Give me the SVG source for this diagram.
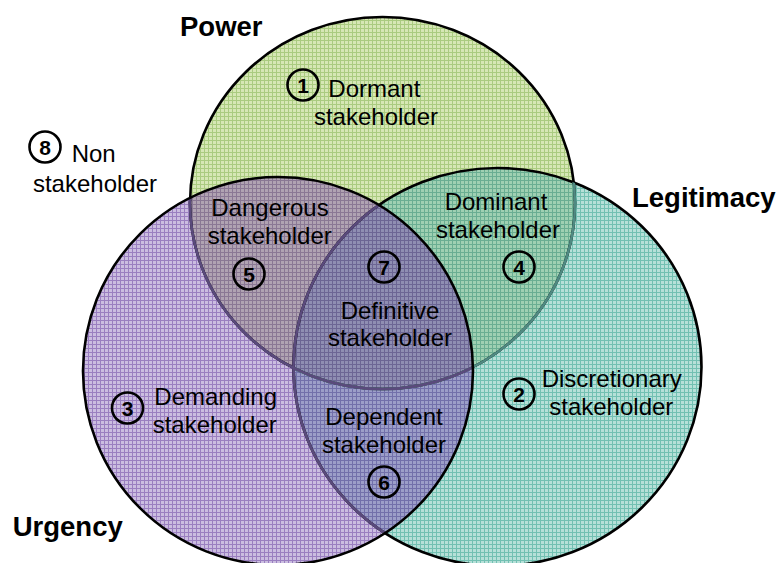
<svg xmlns="http://www.w3.org/2000/svg" width="783" height="563" viewBox="0 0 783 563">
<style>
text{font-family:"Liberation Sans",Arial,sans-serif;fill:#000}
.lbl{font-size:24px}
.ttl{font-size:27.5px;font-weight:bold}
.num{font-size:21px;font-weight:bold;text-anchor:middle}
.mid{text-anchor:middle}
.nc{fill:none;stroke:#000;stroke-width:2.6}
.out{fill:none;stroke:#000;stroke-width:2.6}
</style>
<defs>
<pattern id="pG" width="4" height="4" patternUnits="userSpaceOnUse"><rect width="4" height="4" fill="#d6e7b5"/><path d="M0 0.5H4M0.5 0V4" stroke="#aacb80" stroke-width="1"/></pattern>
<pattern id="pT" width="4" height="4" patternUnits="userSpaceOnUse"><rect width="4" height="4" fill="#b6e0d8"/><path d="M0 0.5H4M0.5 0V4" stroke="#72c0b2" stroke-width="1"/></pattern>
<pattern id="pP" width="4" height="4" patternUnits="userSpaceOnUse"><rect width="4" height="4" fill="#cbbde0"/><path d="M0 0.5H4M0.5 0V4" stroke="#9a7fc0" stroke-width="1"/></pattern>
<pattern id="pGT" width="4" height="4" patternUnits="userSpaceOnUse"><rect width="4" height="4" fill="#9fd0b2"/><path d="M0 0.5H4M0.5 0V4" stroke="#6aae92" stroke-width="1"/></pattern>
<pattern id="pGP" width="4" height="4" patternUnits="userSpaceOnUse"><rect width="4" height="4" fill="#b0a3b2"/><path d="M0 0.5H4M0.5 0V4" stroke="#8a7894" stroke-width="1"/></pattern>
<pattern id="pTP" width="4" height="4" patternUnits="userSpaceOnUse"><rect width="4" height="4" fill="#9c9ec8"/><path d="M0 0.5H4M0.5 0V4" stroke="#7270aa" stroke-width="1"/></pattern>
<pattern id="pGTP" width="4" height="4" patternUnits="userSpaceOnUse"><rect width="4" height="4" fill="#8f8eb2"/><path d="M0 0.5H4M0.5 0V4" stroke="#6c6694" stroke-width="1"/></pattern>
<ellipse id="eG" cx="382.5" cy="203" rx="192.5" ry="186"/>
<ellipse id="eT" cx="497.5" cy="367" rx="204" ry="199"/>
<ellipse id="eP" cx="278" cy="371" rx="195" ry="194"/>
<clipPath id="cG"><use href="#eG"/></clipPath>
<clipPath id="cT"><use href="#eT"/></clipPath>
<clipPath id="cP"><use href="#eP"/></clipPath>
</defs>

<g id="power"><use href="#eG" fill="url(#pG)"/></g>
<g id="legitimacy"><use href="#eT" fill="url(#pT)"/></g>
<g id="urgency"><use href="#eP" fill="url(#pP)"/></g>

<g id="overlaps">
<use href="#eT" fill="url(#pGT)" clip-path="url(#cG)"/>
<use href="#eP" fill="url(#pGP)" clip-path="url(#cG)"/>
<use href="#eP" fill="url(#pTP)" clip-path="url(#cT)"/>
<g clip-path="url(#cG)"><use href="#eP" fill="url(#pGTP)" clip-path="url(#cT)"/></g>
</g>

<g id="outlines">
<use href="#eG" class="out"/>
<use href="#eT" class="out"/>
<g clip-path="url(#cT)"><use href="#eG" class="out" style="stroke:#4f8a82"/></g>
<g clip-path="url(#cP)"><use href="#eG" class="out" style="stroke:#5a4a7c"/><use href="#eT" class="out" style="stroke:#5a4a7c"/></g>
<use href="#eP" class="out"/>
</g>

<g id="titles">
<text class="ttl" x="180" y="36">Power</text>
<text class="ttl" x="632" y="207">Legitimacy</text>
<text class="ttl" x="12.7" y="536">Urgency</text>
</g>

<g id="n1"><circle class="nc" cx="303" cy="85" r="15.5"/><text class="num" x="303" y="92.5">1</text>
<text class="lbl" x="328.3" y="96.7">Dormant</text><text class="lbl mid" x="376" y="125">stakeholder</text></g>

<g id="n8"><circle class="nc" cx="45" cy="147" r="15.5"/><text class="num" x="45" y="154.5">8</text>
<text class="lbl" x="71.7" y="162.3">Non</text><text class="lbl mid" x="95" y="191.7">stakeholder</text></g>

<g id="n5"><text class="lbl mid" x="270" y="215.7">Dangerous</text><text class="lbl mid" x="269.7" y="244">stakeholder</text>
<circle class="nc" cx="249" cy="274" r="15.5"/><text class="num" x="249" y="281.5">5</text></g>

<g id="n4"><text class="lbl mid" x="496" y="210">Dominant</text><text class="lbl mid" x="498" y="238.3">stakeholder</text>
<circle class="nc" cx="519" cy="267" r="15.5"/><text class="num" x="519" y="274.5">4</text></g>

<g id="n7"><circle class="nc" cx="384" cy="267" r="15.5"/><text class="num" x="384" y="274.5">7</text>
<text class="lbl mid" x="390" y="319.3">Definitive</text><text class="lbl mid" x="390" y="346">stakeholder</text></g>

<g id="n3"><circle class="nc" cx="127.5" cy="408" r="15.5"/><text class="num" x="127.5" y="415.5">3</text>
<text class="lbl" x="154.3" y="405">Demanding</text><text class="lbl" x="152.7" y="433.3">stakeholder</text></g>

<g id="n2"><circle class="nc" cx="519" cy="394" r="15.5"/><text class="num" x="519" y="401.5">2</text>
<text class="lbl" x="541.7" y="386.7">Discretionary</text><text class="lbl mid" x="611.3" y="415">stakeholder</text></g>

<g id="n6"><text class="lbl mid" x="384" y="425">Dependent</text><text class="lbl mid" x="384" y="453.3">stakeholder</text>
<circle class="nc" cx="384" cy="482" r="15.5"/><text class="num" x="384" y="489.5">6</text></g>
</svg>
